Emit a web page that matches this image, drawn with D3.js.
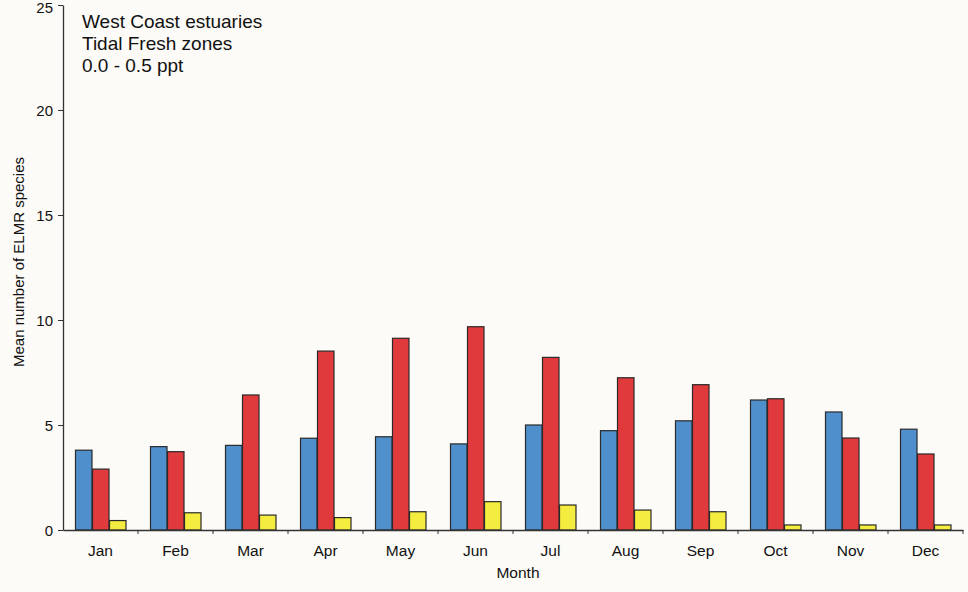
<!DOCTYPE html>
<html>
<head>
<meta charset="utf-8">
<script src="https://cdn.jsdelivr.net/npm/d3@7"></script>
<style>
  body { margin: 0; background: #fcfbf7; }
  svg { display: block; font-family: "Liberation Sans", Arial, sans-serif; }
</style>
</head>
<body>
<svg id="chart" width="968" height="592"></svg>
<script>
// months on the x axis
const months = ["Jan", "Feb", "Mar", "Apr", "May", "Jun", "Jul", "Aug", "Sep", "Oct", "Nov", "Dec"];
// three series per month
const seriesBlue = [3.8, 3.97, 4.03, 4.37, 4.44, 4.1, 5.0, 4.73, 5.2, 6.19, 5.62, 4.8];
const seriesRed = [2.9, 3.73, 6.43, 8.52, 9.13, 9.68, 8.22, 7.25, 6.92, 6.25, 4.38, 3.62];
const seriesYellow = [0.45, 0.82, 0.71, 0.59, 0.87, 1.35, 1.19, 0.95, 0.87, 0.24, 0.24, 0.24];
const yTicks = [0, 5, 10, 15, 20, 25];
const noteLines = ["West Coast estuaries", "Tidal Fresh zones", "0.0 - 0.5 ppt"];

const colors = ["#4f8fcc", "#e03a3c", "#f4ec3e"];
const series = [seriesBlue, seriesRed, seriesYellow];

const svg = d3.select("#chart");
const padL = 63, padR = 963, padT = 5, padB = 530;

// x scale: one band per month
const x = d3.scaleBand()
    .domain(months)
    .range([padL, padR])
    .paddingInner(0.32)
    .paddingOuter(0.16);

const xSub = d3.scaleBand()
    .domain(d3.range(series.length))
    .range([0, x.bandwidth()]);

const y = d3.scaleLinear()
    .domain([0, 25])
    .range([padB, padT]);

// bars
const rows = months.map((m, i) => ({ month: m, vals: series.map(s => s[i]) }));

const groups = svg.append("g")
    .selectAll("g")
    .data(rows)
    .enter().append("g")
    .attr("transform", d => "translate(" + x(d.month) + ",0)");

groups.selectAll("rect")
    .data(d => d.vals.map((v, k) => ({ v: v, k: k })))
    .enter().append("rect")
    .attr("x", d => xSub(d.k) + 0.5)
    .attr("y", d => y(d.v))
    .attr("width", xSub.bandwidth() - 0.5)
    .attr("height", d => padB - y(d.v))
    .attr("fill", d => colors[d.k])
    .attr("stroke", "#2a2a2a")
    .attr("stroke-width", 1.2);

// y axis
const yAxis = svg.append("g")
    .attr("transform", "translate(" + padL + ",0)")
    .call(d3.axisLeft(y).tickValues(yTicks).tickSize(5).tickSizeOuter(0));
yAxis.select(".domain").attr("stroke", "#333").attr("stroke-width", 1.3);
yAxis.selectAll(".tick line").attr("stroke", "#333");
yAxis.selectAll("text")
    .attr("font-size", 15)
    .attr("fill", "#111")
    .attr("x", -10)
    .attr("dy", d => d === 25 ? "0.5em" : "0.36em");

// x axis: ticks sit between months
const xAxis = svg.append("g")
    .attr("transform", "translate(0," + padB + ")")
    .call(d3.axisBottom(x).tickSize(0).tickSizeOuter(0));
xAxis.select(".domain").attr("stroke", "#333").attr("stroke-width", 1.3);
xAxis.selectAll("text")
    .attr("font-size", 15.5)
    .attr("fill", "#111")
    .attr("y", 26)
    .attr("dy", 0);

const step = x.step();
svg.append("g")
    .selectAll("line")
    .data(d3.range(1, months.length + 1))
    .enter().append("line")
    .attr("x1", d => padL + d * step)
    .attr("x2", d => padL + d * step)
    .attr("y1", padB)
    .attr("y2", padB + 4)
    .attr("stroke", "#333");

// axis titles
svg.append("text")
    .attr("x", 518)
    .attr("y", 578)
    .attr("text-anchor", "middle")
    .attr("font-size", 15.5)
    .attr("fill", "#111")
    .text("Month");

svg.append("text")
    .attr("transform", "translate(24," + 262 + ") rotate(-90)")
    .attr("text-anchor", "middle")
    .attr("font-size", 15)
    .attr("fill", "#111")
    .text("Mean number of ELMR species");

// note in the top left
svg.append("g")
    .selectAll("text")
    .data(noteLines)
    .enter().append("text")
    .attr("x", 82)
    .attr("y", (d, i) => 28 + i * 22)
    .attr("font-size", 19)
    .attr("fill", "#111")
    .text(d => d);
</script>
</body>
</html>
